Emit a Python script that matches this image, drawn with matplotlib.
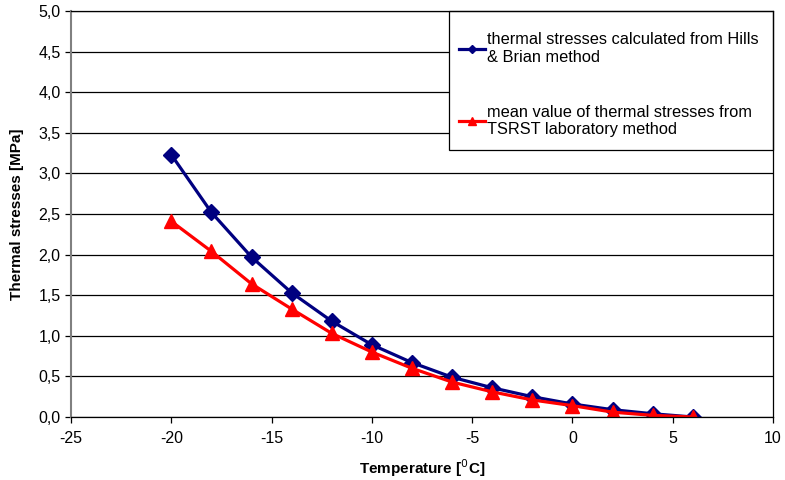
import numpy as np
import matplotlib
matplotlib.use('Agg')
import matplotlib.pyplot as plt
from matplotlib.patches import Rectangle

# Temperature steps [deg C]
temperature = [-20, -18, -16, -14, -12, -10, -8, -6, -4, -2, 0, 2, 4, 6]

# Thermal stresses [MPa]
hills_brian = [3.23, 2.52, 1.97, 1.53, 1.18, 0.89, 0.67, 0.49, 0.36, 0.25, 0.16, 0.09, 0.04, 0.0]
tsrst_mean = [2.41, 2.04, 1.64, 1.33, 1.03, 0.80, 0.60, 0.43, 0.31, 0.21, 0.14, 0.06, 0.02, 0.0]

label_hb = 'thermal stresses calculated from Hills\n& Brian method'
label_ts = 'mean value of thermal stresses from\nTSRST laboratory method'

plt.rcParams['font.family'] = ['Liberation Sans', 'DejaVu Sans']
plt.rcParams['font.size'] = 11
plt.rcParams['axes.unicode_minus'] = False

fig = plt.figure(figsize=(7.85, 4.8), dpi=100)
ax = fig.add_axes([71 / 785, 1 - 417 / 480, (773 - 71) / 785, (417 - 11) / 480])

ax.plot(temperature, hills_brian, color='#000080', lw=2.3, marker='D', ms=8,
        label=label_hb, zorder=3)
ax.plot(temperature, tsrst_mean, color='#FF0000', lw=2.3, marker='^', ms=10,
        label=label_ts, zorder=4)

ax.set_xlim(-25, 10)
ax.set_ylim(0, 5)
ax.set_xticks(np.arange(-25, 11, 5))
ax.set_yticks(np.arange(0, 5.01, 0.5))
ax.set_yticklabels([f'{v:.1f}'.replace('.', ',') for v in np.arange(0, 5.01, 0.5)])

ax.yaxis.grid(True, color='#000000', lw=0.9)
ax.set_axisbelow(True)
for s in ax.spines.values():
    s.set_color('#000000')
    s.set_linewidth(0.9)
    s.set_zorder(7)
ax.spines['left'].set_color('#808080')
ax.spines['left'].set_linewidth(1.5)
ax.tick_params(axis='both', direction='out', length=4, width=0.9, labelsize=11.5)
ax.tick_params(axis='x', pad=6)

ax.set_xlabel('Temperature [$^{0}$C]', fontweight='bold', fontsize=11, labelpad=8)
ax.set_ylabel('Thermal stresses [MPa]', fontweight='bold', fontsize=11, labelpad=10)

# legend box sits in the upper right corner of the plot area
box = Rectangle((0.5385, 0.6576), 1.0 - 0.5385, 1.0 - 0.6576, transform=ax.transAxes,
                facecolor='white', edgecolor='#000000', lw=0.9, zorder=5, clip_on=False)
ax.add_patch(box)
leg = ax.legend(loc='upper left', bbox_to_anchor=(0.5527, 0.948), fontsize=11.8,
                frameon=False, handlelength=1.6, handletextpad=0.1,
                labelspacing=2.45, borderpad=0.0, borderaxespad=0.0, markerscale=0.55)
leg.set_zorder(6)

fig.savefig('out.png', dpi=100, facecolor='white')
